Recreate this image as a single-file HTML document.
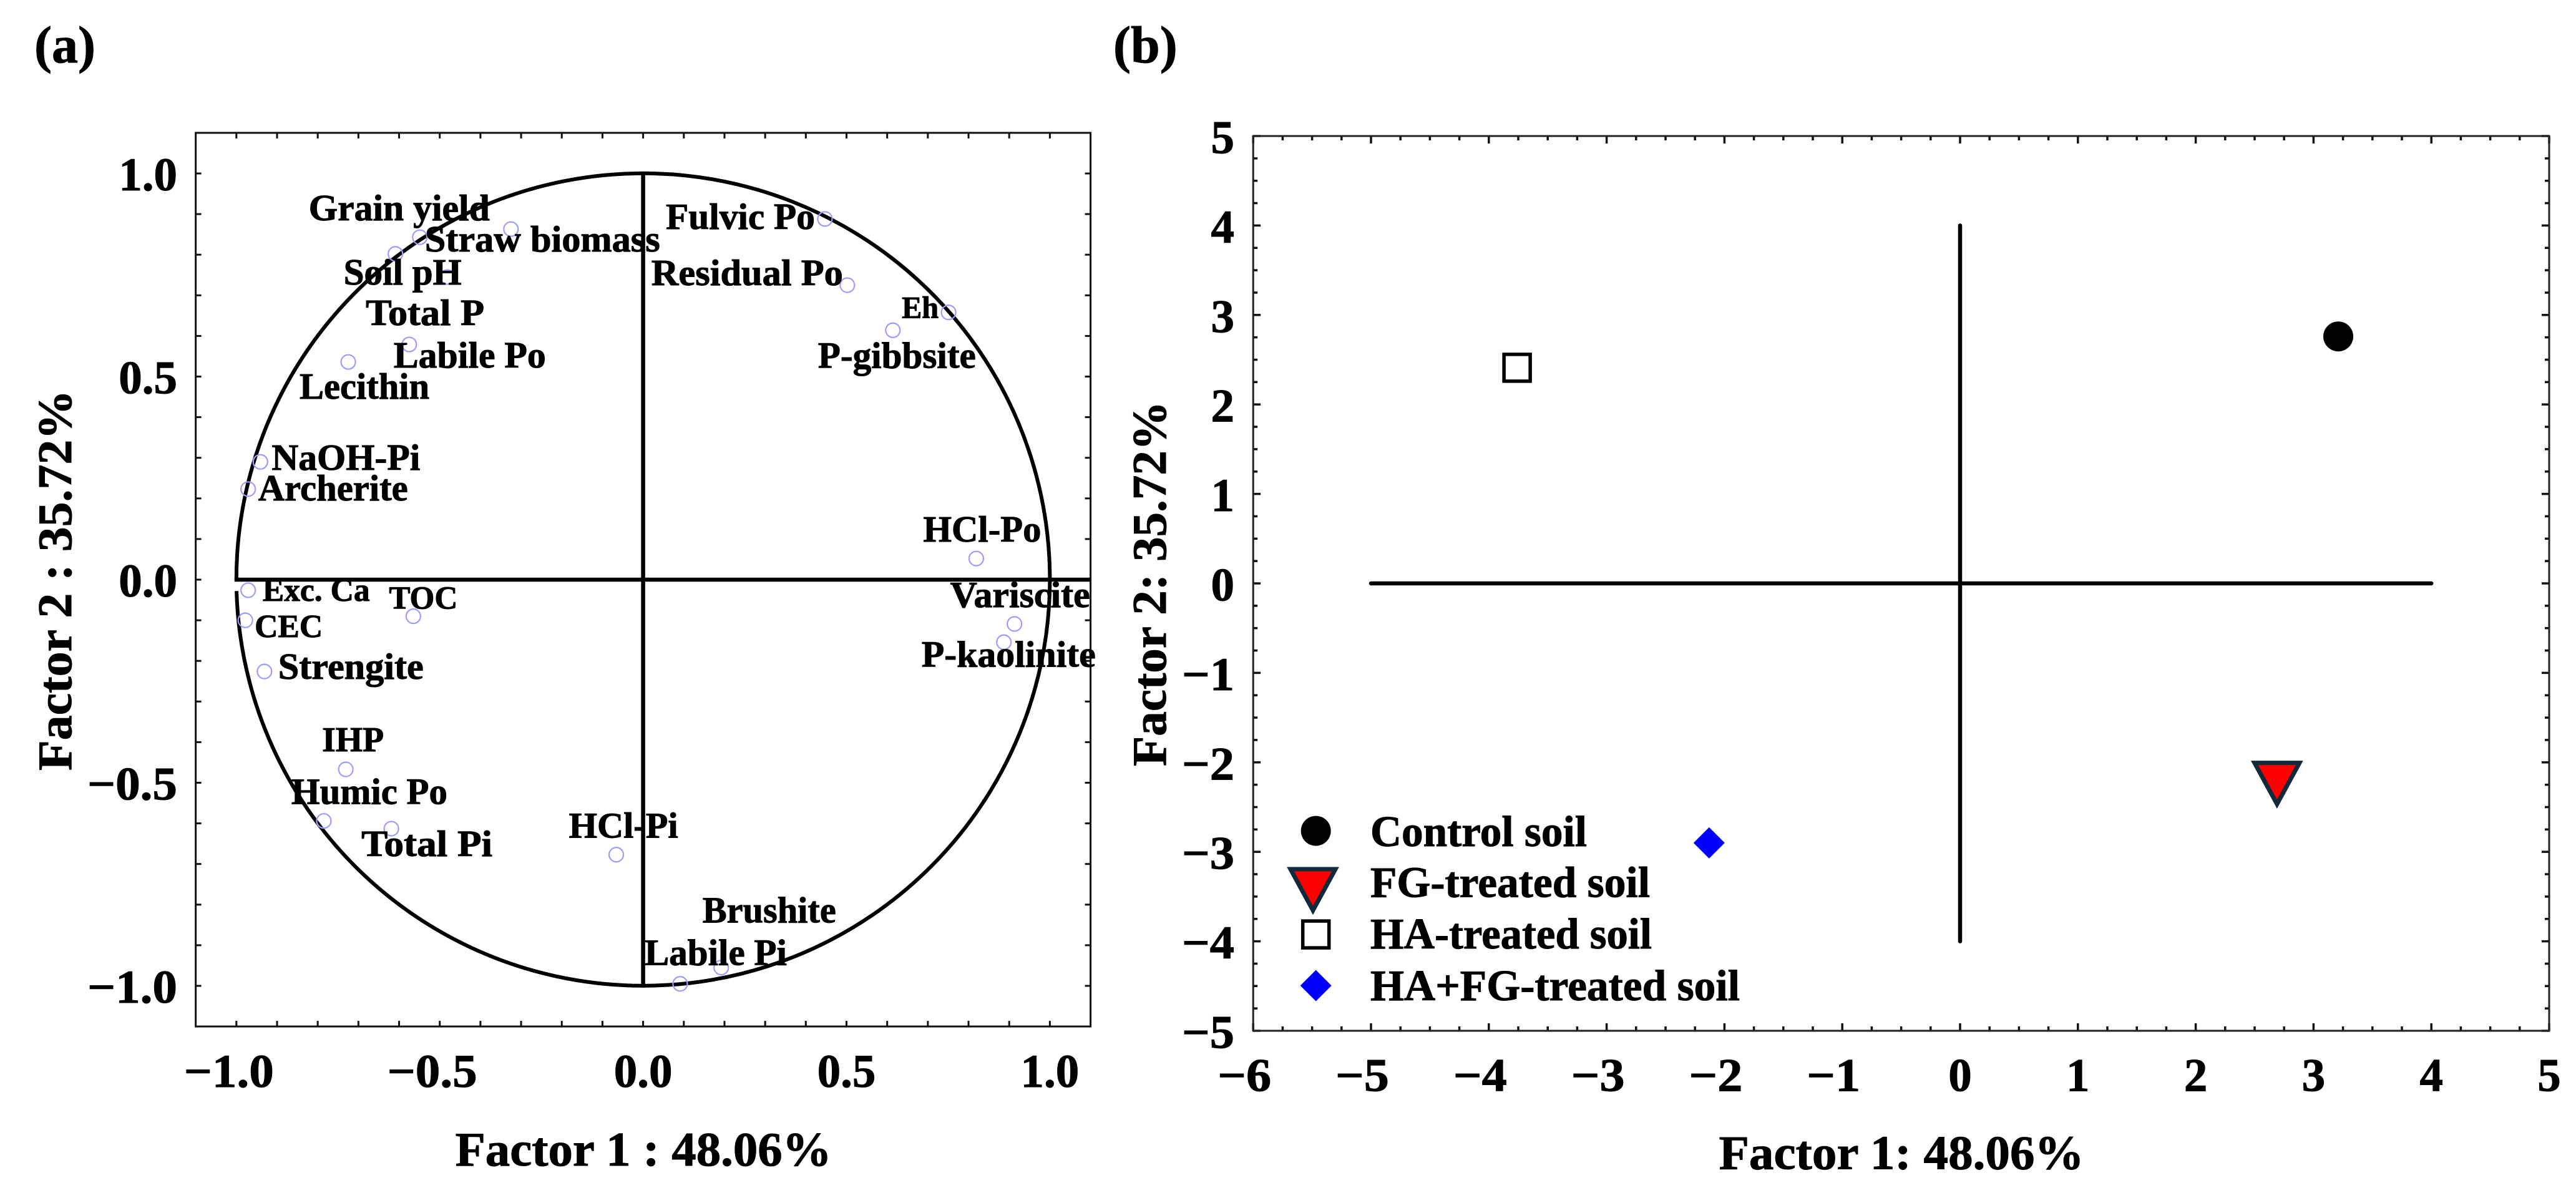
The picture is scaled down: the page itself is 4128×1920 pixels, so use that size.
<!DOCTYPE html>
<html lang="en">
<head>
<meta charset="utf-8">
<title>Factor analysis loadings and scores</title>
<style>
html,body{margin:0;padding:0;background:#fff;}
svg{display:block;}
text{font-family:"Liberation Serif",serif;font-weight:bold;fill:#000;stroke:#000;stroke-width:1;}
</style>
</head>
<body>
<svg id="figure" xmlns="http://www.w3.org/2000/svg" width="4128" height="1920" viewBox="0 0 4128 1920"></svg>
<script>
// ---- Panel (a) data: variable loadings ----
const loadingNames = ["Grain yield","Straw biomass","Soil pH","Total P","Labile Po","Lecithin","NaOH-Pi","Archerite","Fulvic Po","Residual Po","Eh","P-gibbsite","HCl-Po","Exc. Ca","CEC","TOC","Strengite","IHP","Humic Po","Total Pi","HCl-Pi","Brushite","Labile Pi","Variscite","P-kaolinite"];
const loadingFactor1 = [-0.549,-0.325,-0.609,-0.481,-0.575,-0.725,-0.941,-0.971,0.447,0.502,0.751,0.614,0.819,-0.971,-0.978,-0.565,-0.931,-0.731,-0.785,-0.619,-0.066,0.192,0.091,0.913,0.887];
const loadingFactor2 = [0.843,0.863,0.802,0.745,0.579,0.536,0.290,0.223,0.888,0.725,0.658,0.614,0.052,-0.026,-0.100,-0.090,-0.226,-0.467,-0.594,-0.613,-0.677,-0.955,-0.995,-0.109,-0.154];
const loadingAxisTicks = [-1.0,-0.5,0.0,0.5,1.0];
const loadingAxisTickLabels = ["\u22121.0","\u22120.5","0.0","0.5","1.0"];

// ---- Panel (b) data: sample scores ----
const scoreGroups = ["Control soil","FG-treated soil","HA-treated soil","HA+FG-treated soil"];
const scoreFactor1 = [3.21,2.69,-3.76,-2.13];
const scoreFactor2 = [2.76,-2.25,2.41,-2.90];
const scoreXTicks = [-6,-5,-4,-3,-2,-1,0,1,2,3,4,5];
const scoreYTicks = [5,4,3,2,1,0,-1,-2,-3,-4,-5];

// ---- Layout (not data) ----
const labelOffsets = {
  "Grain yield":[-178,-27,290,59],"Straw biomass":[-138,36,377,59],"Soil pH":[-83,49,189,59],"Total P":[-131,77,190,59],
  "Labile Po":[-25,37,244,59],"Lecithin":[-78,59,208,59],"NaOH-Pi":[18,13,238,59],"Archerite":[16,18,240,59],
  "Fulvic Po":[-255,16,239,59],"Residual Po":[-314,0,307,59],"Eh":[-75,9,59,50],"P-gibbsite":[-120,60,253,59],
  "HCl-Po":[-85,-27,189,59],"Exc. Ca":[23,17,172,52],"CEC":[15,27,109,52],"TOC":[-39,-12,110,52],
  "Strengite":[22,12,233,59],"IHP":[-38,-29,99,56],"Humic Po":[-52,-27,250,59],"Total Pi":[-48,44,210,59],
  "HCl-Pi":[-76,-27,175,58],"Brushite":[-30,-72,214,59],"Labile Pi":[-57,-30,228,59],"Variscite":[-103,-27,224,59],
  "P-kaolinite":[-132,39,279,59]
};
const xA = v => 1030.6 + 651.8 * v;
const yA = v => 929 - 651 * v;
const xB = v => 3141 + 188.8 * v;
const yB = v => 935 - 143.4 * v;

const NS = "http://www.w3.org/2000/svg";
const fig = document.getElementById("figure");
function mk(parent, tag, attrs, txt) {
  const n = document.createElementNS(NS, tag);
  for (const k in attrs) n.setAttribute(k, attrs[k]);
  if (txt !== undefined) n.textContent = txt;
  parent.appendChild(n);
  return n;
}
function slug(s) {
  return s.toLowerCase().replace(/[^a-z0-9]+/g, "-").replace(/^-|-$/g, "");
}
let el;

// background
el = mk(fig, "rect", {x:0, y:0, width:4128, height:1920, fill:"#fff"});



// ======== Panel (a) ========
const pa = mk(fig, "g", {});



el = mk(pa, "text", {x:55, y:100, "font-size":84}, "(a)");



for (let i = -10; i <= 10; i++) {
  const v = i / 10;
  const ticks = [
    [xA(v), yA(-1.1), xA(v), yA(-1.1) - 9, 'x-tick-bottom'],
    [xA(v), yA(1.1), xA(v), yA(1.1) + 9, 'x-tick-top'],
    [xA(-1.1), yA(v), xA(-1.1) + 9, yA(v), 'y-tick-left'],
    [xA(1.1), yA(v), xA(1.1) - 9, yA(v), 'y-tick-right']
  ];
  for (const t of ticks) {
    el = mk(pa, "line", {x1:t[0], y1:t[1], x2:t[2], y2:t[3], stroke:"#111", "stroke-width":3});
    
    
  }
}

el = mk(pa, "rect", {x:xA(-1.1), y:yA(1.1), width:xA(1.1)-xA(-1.1), height:yA(-1.1)-yA(1.1), fill:"none", stroke:"#111", "stroke-width":3});



const arcStartX = -0.9996, arcStartY = -0.028;
el = mk(pa, "path", {d:"M" + xA(arcStartX) + " " + yA(arcStartY) + " A" + (xA(1)-xA(0)) + " " + (yA(0)-yA(1)) + " 0 1 0 " + xA(-1) + " " + yA(0), fill:"none", stroke:"#000", "stroke-width":6});



el = mk(pa, "line", {x1:xA(-1)-3, y1:yA(0), x2:xA(1.1), y2:yA(0), stroke:"#000", "stroke-width":6.5});


el = mk(pa, "line", {x1:xA(0), y1:yA(1), x2:xA(0), y2:yA(-1), stroke:"#000", "stroke-width":6.5});



loadingNames.forEach((name, i) => {
  const mx = xA(loadingFactor1[i]), my = yA(loadingFactor2[i]);
  const c = mk(pa, "circle", {cx:mx, cy:my, r:11.5, fill:"none", stroke:"#9c9cff", "stroke-width":2.2});
  
  
});
loadingNames.forEach((name, i) => {
  const mx = xA(loadingFactor1[i]), my = yA(loadingFactor2[i]);
  const o = labelOffsets[name];
  const t = mk(pa, "text", {x:mx+o[0], y:my+o[1], "font-size":o[3], textLength:o[2], lengthAdjust:"spacingAndGlyphs"}, name);
  
  
});

loadingAxisTicks.forEach((v, i) => {
  const lab = loadingAxisTickLabels[i];
  const attrsX = {x:xA(v) - (v < 0 ? 12 : 0), y:1742, "font-size":75, "text-anchor":"middle"};
  const attrsY = {x:284, y:yA(v)+27, "font-size":75, "text-anchor":"end"};
  if (v < 0) {
    attrsX.textLength = 144; attrsX.lengthAdjust = "spacingAndGlyphs";
    attrsY.textLength = 144; attrsY.lengthAdjust = "spacingAndGlyphs";
  }
  const tx = mk(pa, "text", attrsX, lab);
  
  
  const ty = mk(pa, "text", attrsY, lab);
  
  
});

el = mk(pa, "text", {x:729.6, y:1868, "font-size":77, textLength:603, lengthAdjust:"spacingAndGlyphs"}, "Factor 1 : 48.06%");


el = mk(pa, "text", {x:0, y:0, "font-size":77, textLength:610, lengthAdjust:"spacingAndGlyphs", transform:"translate(114 1235) rotate(-90)"}, "Factor 2 : 35.72%");



// ======== Panel (b) ========
const pb = mk(fig, "g", {});



el = mk(pb, "text", {x:1784, y:100, "font-size":84}, "(b)");



for (let i = -24; i <= 20; i++) {
  const v = i / 4;
  const len = i % 4 === 0 ? 12 : 7;
  el = mk(pb, "line", {x1:xB(v), y1:yB(-5), x2:xB(v), y2:yB(-5)-len, stroke:"#111", "stroke-width":3.5});
  
  
  el = mk(pb, "line", {x1:xB(v), y1:yB(5), x2:xB(v), y2:yB(5)+len, stroke:"#111", "stroke-width":3.5});
  
  
}
for (let i = -20; i <= 20; i++) {
  const v = i / 4;
  const len = i % 4 === 0 ? 12 : 7;
  el = mk(pb, "line", {x1:xB(-6), y1:yB(v), x2:xB(-6)+len, y2:yB(v), stroke:"#111", "stroke-width":3.5});
  
  
  el = mk(pb, "line", {x1:xB(5), y1:yB(v), x2:xB(5)-len, y2:yB(v), stroke:"#111", "stroke-width":3.5});
  
  
}
el = mk(pb, "rect", {x:xB(-6), y:yB(5), width:xB(5)-xB(-6), height:yB(-5)-yB(5), fill:"none", stroke:"#222", "stroke-width":3});



el = mk(pb, "line", {x1:xB(-5), y1:yB(0), x2:xB(4), y2:yB(0), stroke:"#000", "stroke-width":6.5, "stroke-linecap":"round"});


el = mk(pb, "line", {x1:xB(0), y1:yB(4), x2:xB(0), y2:yB(-4), stroke:"#000", "stroke-width":6.5, "stroke-linecap":"round"});



function drawMarker(parent, group, cx, cy) {
  if (group === 0) {
    return mk(parent, "circle", {cx:cx, cy:cy, r:24, fill:"#000"});
  }
  if (group === 1) {
    return mk(parent, "polygon", {points:(cx-36)+","+(cy-35)+" "+(cx+36)+","+(cy-35)+" "+cx+","+(cy+31), fill:"#ff0000", stroke:"#0f2a3a", "stroke-width":7, "stroke-linejoin":"miter"});
  }
  if (group === 2) {
    return mk(parent, "rect", {x:cx-21, y:cy-21.5, width:42, height:43, fill:"#fff", stroke:"#000", "stroke-width":5.5});
  }
  return mk(parent, "polygon", {points:cx+","+(cy-25)+" "+(cx+25)+","+cy+" "+cx+","+(cy+25)+" "+(cx-25)+","+cy, fill:"#0000ff"});
}

scoreGroups.forEach((g, i) => {
  const m = drawMarker(pb, i, xB(scoreFactor1[i]), yB(scoreFactor2[i]));
  
  
});

scoreXTicks.forEach(v => {
  const attrs = {x:xB(v) - (v < 0 ? 14 : 0), y:1748.5, "font-size":75, "text-anchor":"middle"};
  if (v < 0) { attrs.textLength = 86; attrs.lengthAdjust = "spacingAndGlyphs"; }
  const t = mk(pb, "text", attrs, v < 0 ? "\u2212" + (-v) : String(v));
  
  
});
scoreYTicks.forEach(v => {
  const attrs = {x:1978, y:yB(v)+27.5, "font-size":75, "text-anchor":"end"};
  if (v < 0) { attrs.textLength = 84; attrs.lengthAdjust = "spacingAndGlyphs"; }
  const t = mk(pb, "text", attrs, v < 0 ? "\u2212" + (-v) : String(v));
  
  
});

el = mk(pb, "text", {x:2754.6, y:1873.5, "font-size":77, textLength:585, lengthAdjust:"spacingAndGlyphs"}, "Factor 1: 48.06%");


el = mk(pb, "text", {x:0, y:0, "font-size":77, textLength:585, lengthAdjust:"spacingAndGlyphs", transform:"translate(1868 1228) rotate(-90)"}, "Factor 2: 35.72%");



// Legend
const legend = mk(pb, "g", {});


const legendLayout = [[2108.7,1331.6,1356,347],[2104,1428,1437.6,448],[2108.7,1497.6,1520.2,451],[2108.7,1579.6,1602.9,592]];
scoreGroups.forEach((g, i) => {
  const l = legendLayout[i];
  const m = drawMarker(legend, i, l[0], l[1]);
  
  
  const t = mk(legend, "text", {x:2196, y:l[2], "font-size":70, textLength:l[3], lengthAdjust:"spacingAndGlyphs"}, g);
  
  
});
</script>
</body>
</html>
